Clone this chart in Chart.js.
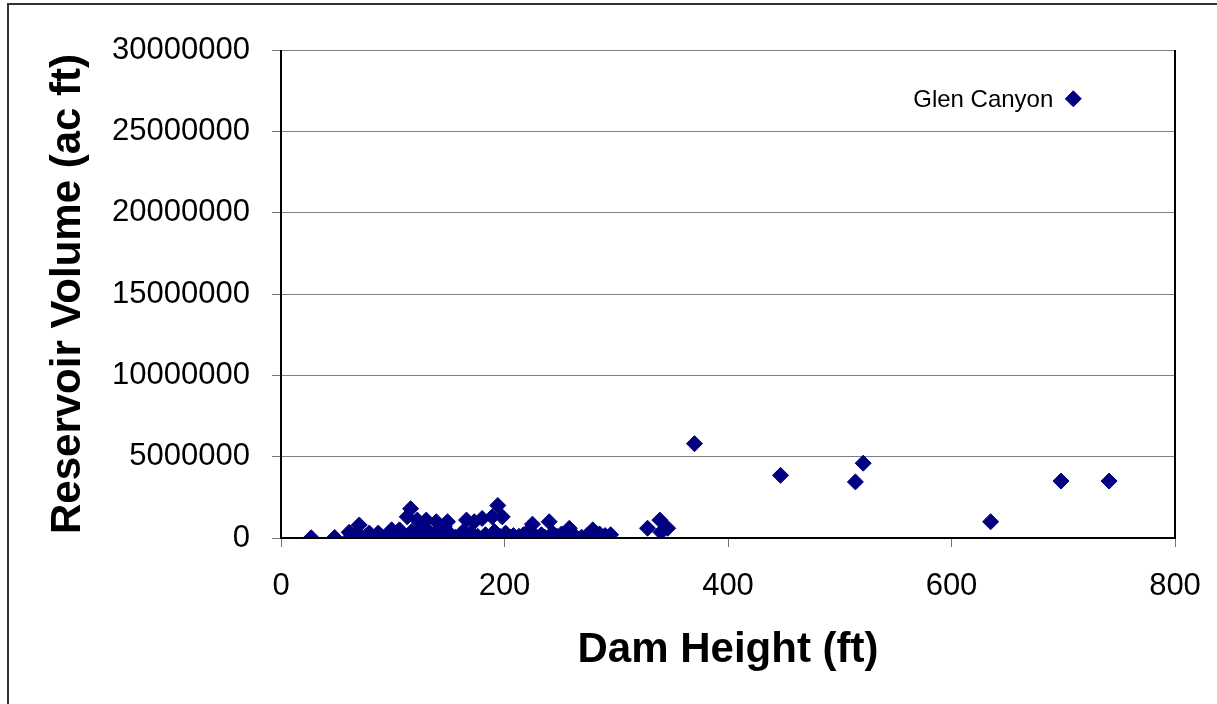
<!DOCTYPE html>
<html>
<head>
<meta charset="utf-8">
<script src="https://cdn.jsdelivr.net/npm/chart.js@4/dist/chart.umd.min.js"></script>
<style>
html,body{margin:0;padding:0;background:#fff;}
#wrap{width:1217px;height:704px;position:relative;}
</style>
</head>
<body>
<div id="wrap"><canvas id="c" width="1217" height="704"></canvas></div>
<script>
// Dam height (ft)
const damHeights = [27,48,61,62,66,70,72,76,79,82,87,90,95,99,100,104,106,108,112,113,116,117,119,122,124,126,128,130,132,134,137,139,141,143,146,149,152,156,160,163,166,168,170,173,176,180,183,186,189,191,194,196,198,201,205,208,213,217,221,225,228,233,236,240,243,247,251,255,258,262,269,274,279,285,290,295,328,339,340,346,370,447,514,521,635,698,741,709];
// Reservoir volume (ac ft)
const reservoirVolumes = [20000,30000,350000,50000,100000,800000,50000,100000,300000,50000,300000,100000,50000,500000,150000,50000,500000,200000,100000,1300000,1800000,400000,50000,1100000,300000,600000,50000,1100000,400000,150000,50000,1000000,500000,100000,700000,1000000,200000,50000,150000,400000,1100000,50000,300000,1000000,100000,1200000,200000,50000,1300000,400000,2000000,100000,1300000,300000,50000,150000,100000,200000,400000,850000,100000,200000,50000,1000000,300000,100000,250000,100000,600000,200000,50000,150000,500000,250000,150000,200000,600000,1100000,350000,600000,5800000,3850000,3450000,4600000,1000000,3500000,3500000,27000000];
const labelledDam = {name: "Glen Canyon", index: reservoirVolumes.length - 1};
const xTicks = [0,200,400,600,800];
const yTicks = [0,5000000,10000000,15000000,20000000,25000000,30000000];

const points = damHeights.map((h,i)=>({x:h, y:reservoirVolumes[i]}));

const framePlugin = {
  id:'frame',
  beforeDraw(chart){
    const ctx = chart.ctx;
    ctx.save();
    ctx.fillStyle='#fff';
    ctx.fillRect(0,0,chart.width,chart.height);
    ctx.strokeStyle='#333';
    ctx.lineWidth=2;
    ctx.strokeRect(8,4,1400,900);
    ctx.restore();
  },
  afterDatasetsDraw(chart){
    const ctx = chart.ctx, a = chart.chartArea;
    ctx.save();
    ctx.strokeStyle='#000';
    ctx.lineWidth=2;
    ctx.beginPath();
    ctx.moveTo(a.left, a.top); ctx.lineTo(a.left, a.bottom); ctx.lineTo(a.right, a.bottom); ctx.lineTo(a.right, a.top);
    ctx.stroke();
    const xs = chart.scales.x, ys = chart.scales.y;
    const i = labelledDam.index;
    const px = xs.getPixelForValue(damHeights[i]);
    const py = ys.getPixelForValue(reservoirVolumes[i]);
    ctx.fillStyle='#000';
    ctx.font='24px "Liberation Sans", Arial, sans-serif';
    ctx.textAlign='right';
    ctx.textBaseline='middle';
    ctx.fillText(labelledDam.name, px-20, py+2);
    ctx.restore();
  }
};

new Chart(document.getElementById('c'), {
  type:'scatter',
  data:{datasets:[{
    data:points,
    pointStyle:'rectRot',
    pointRadius:8,
    pointHoverRadius:8,
    backgroundColor:'#000080',
    borderColor:'#000080',
    borderWidth:1
  }]},
  options:{
    responsive:false,
    animation:false,
    events:[],
    layout:{padding:{top:50,right:42,left:0,bottom:0}},
    plugins:{legend:{display:false},tooltip:{enabled:false}},
    scales:{
      x:{
        type:'linear', min:0, max:800,
        afterBuildTicks(s){ s.ticks = xTicks.map(v=>({value:v})); },
        afterFit(s){ s.height = 166; s.paddingRight = 0; s.paddingLeft = 0; },
        grid:{drawOnChartArea:false, drawTicks:true, tickLength:9, tickColor:'#777', tickWidth:1},
        border:{display:false},
        ticks:{color:'#000', padding:21, maxRotation:0, font:{family:'"Liberation Sans", Arial, sans-serif', size:31}, callback:v=>String(v)},
        title:{display:true, text:'Dam Height (ft)', color:'#000', padding:{top:0,bottom:33}, font:{family:'"Liberation Sans", Arial, sans-serif', size:42, weight:'bold', lineHeight:1}}
      },
      y:{
        type:'linear', min:0, max:30000000,
        afterBuildTicks(s){ s.ticks = yTicks.map(v=>({value:v})); },
        afterFit(s){ s.width = 281; s.paddingTop = 0; s.paddingBottom = 0; },
        grid:{color:'#808080', lineWidth:1, drawTicks:true, tickLength:9, tickColor:'#777'},
        border:{display:false},
        ticks:{color:'#000', padding:22, font:{family:'"Liberation Sans", Arial, sans-serif', size:31}, callback:v=>String(v)},
        title:{display:true, text:'Reservoir Volume (ac ft)', color:'#000', padding:{top:47,bottom:0}, font:{family:'"Liberation Sans", Arial, sans-serif', size:42, weight:'bold', lineHeight:1}}
      }
    }
  },
  plugins:[framePlugin]
});
</script>
</body>
</html>
